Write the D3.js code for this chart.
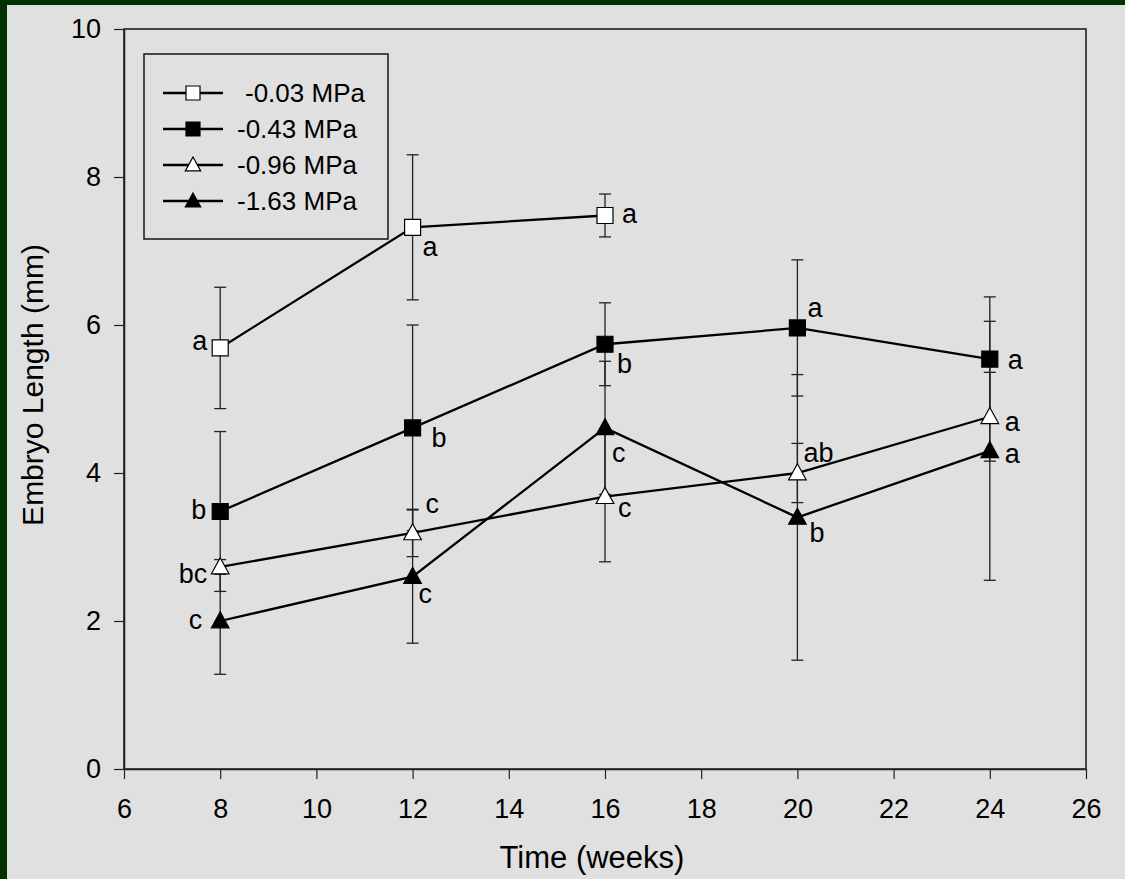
<!DOCTYPE html>
<html>
<head>
<meta charset="utf-8">
<script src="https://cdn.jsdelivr.net/npm/d3@7"></script>
<style>
  html, body { margin: 0; padding: 0; background: #003300; }
  svg { display: block; }
  text { font-family: "Liberation Sans", Arial, sans-serif; fill: #000; }
</style>
</head>
<body>
<svg id="chart" width="1125" height="879"></svg>
<script>
// series (one per water potential)
const seriesNames = ["-0.03 MPa", "-0.43 MPa", "-0.96 MPa", "-1.63 MPa"];
const weeks = [8, 12, 16, 20, 24];

const means003 = [5.69, 7.32, 7.48];
const err003   = [0.82, 0.98, 0.29];
const sig003   = ["a", "a", "a"];

const means043 = [3.48, 4.61, 5.74, 5.96, 5.54];
const err043   = [1.08, 1.39, 0.56, 0.92, 0.84];
const sig043   = ["b", "b", "b", "a", "a"];

const means096 = [2.73, 3.19, 3.68, 4.00, 4.76];
const err096   = [0.10, 0.32, 0.88, 0.40, 0.60];
const sig096   = ["bc", "c", "c", "ab", "a"];

const means163 = [2.00, 2.60, 4.61, 3.40, 4.30];
const err163   = [0.72, 0.90, 0.90, 1.93, 1.75];
const sig163   = ["c", "c", "c", "b", "a"];

const xTicks = [6, 8, 10, 12, 14, 16, 18, 20, 22, 24, 26];
const yTicks = [0, 2, 4, 6, 8, 10];

// nudges for the significance letters, px from the point [dx, dy baseline]
// negative dx => letter sits left of the point (right-aligned)
const nudge003 = [[-13, 2], [10, 29], [17, 8]];
const nudge043 = [[-14, 8], [19, 19], [12, 29], [10, -11], [18, 10]];
const nudge096 = [[-13, 16], [13, -20], [13, 20], [6, -11], [15, 14]];
const nudge163 = [[-18, 8], [6, 26], [7, 34], [12, 25], [15, 12]];

const series = [
  { name: seriesNames[0], means: means003, err: err003, sig: sig003, nudge: nudge003, shape: "square", fill: "#fff" },
  { name: seriesNames[1], means: means043, err: err043, sig: sig043, nudge: nudge043, shape: "square", fill: "#000" },
  { name: seriesNames[2], means: means096, err: err096, sig: sig096, nudge: nudge096, shape: "triangle", fill: "#fff" },
  { name: seriesNames[3], means: means163, err: err163, sig: sig163, nudge: nudge163, shape: "triangle", fill: "#000" },
];

const svg = d3.select("#chart");

// light panel over the dark green frame
svg.append("rect")
  .attr("x", 7).attr("y", 5)
  .attr("width", 1125 - 7).attr("height", 879 - 5)
  .attr("fill", "#e0e0e0");

const margin = { left: 124, right: 1086, top: 29, bottom: 769 };

const x = d3.scaleLinear().domain([6, 26]).range([margin.left, margin.right]);
const y = d3.scaleLinear().domain([0, 10]).range([margin.bottom, margin.top]);

// frame
svg.append("rect")
  .attr("x", margin.left).attr("y", margin.top)
  .attr("width", margin.right - margin.left).attr("height", margin.bottom - margin.top)
  .attr("fill", "none").attr("stroke", "#222").attr("stroke-width", 1.6);

const xAxis = svg.append("g")
  .attr("transform", `translate(0,${margin.bottom})`)
  .call(d3.axisBottom(x).tickValues(xTicks).tickSize(10).tickPadding(20).tickSizeOuter(0));
const yAxis = svg.append("g")
  .attr("transform", `translate(${margin.left},0)`)
  .call(d3.axisLeft(y).tickValues(yTicks).tickSize(10).tickPadding(13).tickSizeOuter(0));

[xAxis, yAxis].forEach(g => {
  g.select(".domain").attr("stroke", "#222").attr("stroke-width", 1.6);
  g.selectAll(".tick line").attr("stroke", "#222").attr("stroke-width", 1.2);
  g.selectAll(".tick text")
    .attr("font-size", 27)
    .attr("font-family", "'Liberation Sans', Arial, sans-serif")
    .attr("fill", "#000");
});

svg.append("text")
  .attr("x", 592)
  .attr("y", 868)
  .attr("text-anchor", "middle")
  .attr("font-size", 31)
  .text("Time (weeks)");

svg.append("text")
  .attr("transform", `translate(43,385) rotate(-90)`)
  .attr("text-anchor", "middle")
  .attr("font-size", 30)
  .text("Embryo Length (mm)");

// markers
const markerPath = (shape, cx, cy, r) => {
  if (shape === "square") {
    return `M${cx - r},${cy - r}h${2 * r}v${2 * r}h${-2 * r}Z`;
  }
  return `M${cx},${cy - r * 1.15}L${cx + r * 1.1},${cy + r * 0.85}L${cx - r * 1.1},${cy + r * 0.85}Z`;
};

const plot = svg.append("g");

// error bars first (behind lines and markers)
series.forEach(s => {
  const pts = s.means.map((m, i) => ({ wk: weeks[i], m, e: s.err[i] }));
  const eb = plot.append("g").attr("stroke", "#222").attr("stroke-width", 1.3);
  eb.selectAll("line.v").data(pts).join("line")
    .attr("x1", d => x(d.wk)).attr("x2", d => x(d.wk))
    .attr("y1", d => y(d.m + d.e)).attr("y2", d => y(d.m - d.e));
  eb.selectAll("line.t").data(pts).join("line")
    .attr("x1", d => x(d.wk) - 6).attr("x2", d => x(d.wk) + 6)
    .attr("y1", d => y(d.m + d.e)).attr("y2", d => y(d.m + d.e));
  eb.selectAll("line.b").data(pts).join("line")
    .attr("x1", d => x(d.wk) - 6).attr("x2", d => x(d.wk) + 6)
    .attr("y1", d => y(d.m - d.e)).attr("y2", d => y(d.m - d.e));
});

const line = d3.line().x(d => x(d.wk)).y(d => y(d.m));

series.forEach(s => {
  const pts = s.means.map((m, i) => ({ wk: weeks[i], m, sig: s.sig[i], n: s.nudge[i] }));
  plot.append("path")
    .datum(pts)
    .attr("d", line)
    .attr("fill", "none")
    .attr("stroke", "#000")
    .attr("stroke-width", 2.3);
  plot.append("g").selectAll("path").data(pts).join("path")
    .attr("d", d => markerPath(s.shape, x(d.wk), y(d.m), 8))
    .attr("fill", s.fill)
    .attr("stroke", "#000")
    .attr("stroke-width", 1.2);

  plot.append("g").selectAll("text").data(pts).join("text")
    .attr("x", d => x(d.wk) + d.n[0])
    .attr("y", d => y(d.m) + d.n[1])
    .attr("text-anchor", d => d.n[0] < 0 ? "end" : "start")
    .attr("font-size", 27)
    .text(d => d.sig);
});

// legend
const legend = svg.append("g");
legend.append("rect")
  .attr("x", 144).attr("y", 54).attr("width", 244).attr("height", 185)
  .attr("fill", "none").attr("stroke", "#222").attr("stroke-width", 1.6);

const rowY = d3.scalePoint().domain(seriesNames).range([93, 201]);
series.forEach(s => {
  const yy = rowY(s.name);
  legend.append("line")
    .attr("x1", 163).attr("x2", 223).attr("y1", yy).attr("y2", yy)
    .attr("stroke", "#000").attr("stroke-width", 2.3);
  legend.append("path")
    .attr("d", markerPath(s.shape, 193, yy, 7))
    .attr("fill", s.fill).attr("stroke", "#000").attr("stroke-width", 1.2);
  legend.append("text")
    .attr("x", s.name === seriesNames[0] ? 245 : 237)
    .attr("y", yy + 9)
    .attr("font-size", 26)
    .text(s.name);
});
</script>
</body>
</html>
